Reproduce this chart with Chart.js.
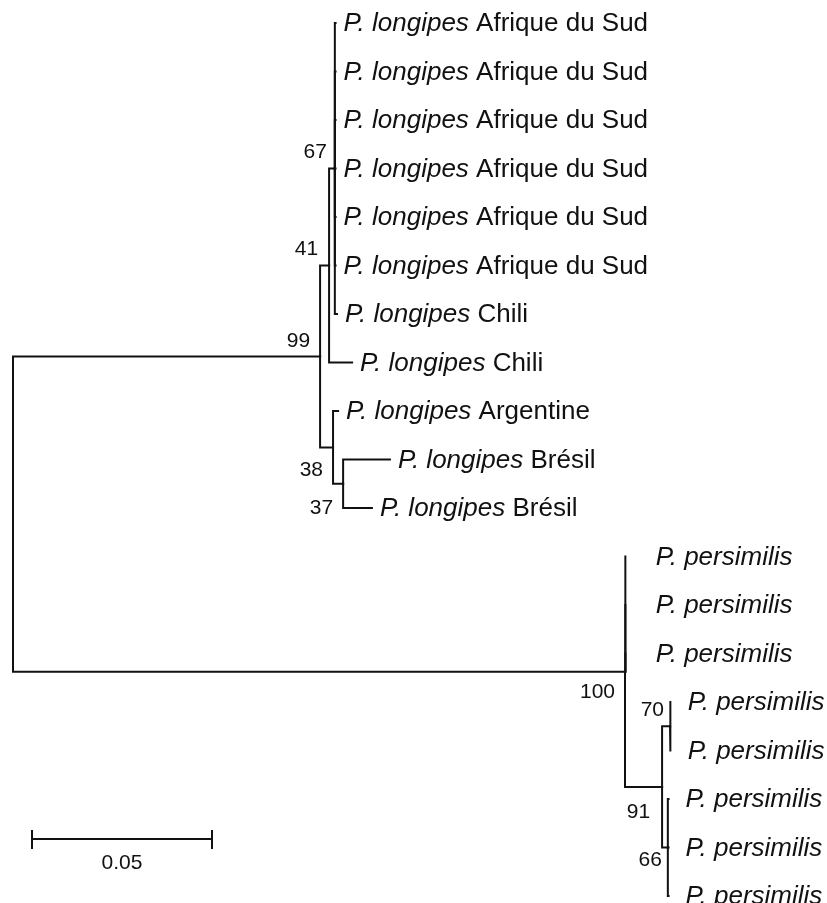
<!DOCTYPE html>
<html>
<head>
<meta charset="utf-8">
<script src="https://cdn.jsdelivr.net/npm/chart.js@4/dist/chart.umd.min.js"></script>
<style>
  body { margin: 0; background: #fff; }
  #wrap { width: 827px; height: 903px; }
</style>
</head>
<body>
<div id="wrap"><canvas id="tree" width="827" height="903"></canvas></div>
<script>
// ---------------- data ----------------
// leaves 0..18 (top to bottom), internal nodes 19..28
const leafGenus = [
  "P. longipes", "P. longipes", "P. longipes", "P. longipes", "P. longipes", "P. longipes",
  "P. longipes", "P. longipes", "P. longipes", "P. longipes", "P. longipes",
  "P. persimilis", "P. persimilis", "P. persimilis", "P. persimilis",
  "P. persimilis", "P. persimilis", "P. persimilis", "P. persimilis"
];
const leafOrigin = [
  "Afrique du Sud", "Afrique du Sud", "Afrique du Sud", "Afrique du Sud", "Afrique du Sud", "Afrique du Sud",
  "Chili", "Chili", "Argentine", "Brésil", "Brésil",
  "", "", "", "", "", "", "", ""
];
// parent of every node (-1 = root)
const parentOf = [
  22, 22, 22, 22, 22, 22, 22, 21, 23, 24, 24,
  25, 25, 25, 27, 27, 28, 28, 28,
  -1, 19, 20, 21, 20, 23, 19, 25, 26, 26
];
// branch lengths (substitutions / site)
const branchLength = [
  0.0002, 0.0002, 0.0002, 0.0002, 0.0002, 0.0002, 0.0006, 0.0064, 0.0014, 0.0130, 0.0080,
  0.0002, 0.0002, 0.0002, 0.0002, 0.0002, 0.0002, 0.0002, 0.0002,
  0, 0.0853, 0.0025, 0.0016, 0.0036, 0.0028, 0.1700, 0.0103, 0.0022, 0.0016
];
// bootstrap values on internal nodes
const supportNode = [20, 21, 22, 23, 24, 25, 26, 27, 28];
const supportValue = [99, 41, 67, 38, 37, 100, 91, 70, 66];
const scaleBarLength = 0.05;

// ---------------- style ----------------
const LINE = "#111";
const labelGap = [8, 8, 8, 8, 8, 8, 8, 8, 8, 8, 8, 30, 30, 30, 17, 17, 17, 17, 17];
// support label offset: right edge dx, center dy (px, from node)
const supportOffset = [[-10, -15], [-11, -16], [-8, -16], [-10, 23], [-10, 24],
                       [-10, 21], [-12, 25], [-6, -16], [-6, 13]];

// ---------------- layout ----------------
const nLeaves = leafGenus.length;
const nodeX = [], nodeY = [];
function getX(i) {
  if (nodeX[i] !== undefined) return nodeX[i];
  nodeX[i] = parentOf[i] < 0 ? 0 : getX(parentOf[i]) + branchLength[i];
  return nodeX[i];
}
function getY(i) {
  if (nodeY[i] !== undefined) return nodeY[i];
  if (i < nLeaves) { nodeY[i] = i; return i; }
  const ys = [];
  parentOf.forEach((p, c) => { if (p === i) ys.push(getY(c)); });
  nodeY[i] = (Math.min(...ys) + Math.max(...ys)) / 2;
  return nodeY[i];
}
for (let i = 0; i < parentOf.length; i++) { getX(i); getY(i); }

var datasets = [];
parentOf.forEach((p, i) => {
  if (p < 0) return;
  datasets.push({
    data: [{x: nodeX[p], y: nodeY[p]}, {x: nodeX[p], y: nodeY[i]}, {x: nodeX[i], y: nodeY[i]}],
    showLine: true,
    borderColor: LINE,
    borderWidth: 2,
    borderCapStyle: "square",
    borderJoinStyle: "miter",
    pointRadius: 0,
    tension: 0,
  });
});

const treeText = {
  id: "treeText",
  afterDatasetsDraw(chart) {
    const ctx = chart.ctx;
    const xs = chart.scales.x, ys = chart.scales.y;
    ctx.save();
    ctx.fillStyle = "#111";
    ctx.textBaseline = "middle";
    // leaf names
    for (let i = 0; i < nLeaves; i++) {
      let px = xs.getPixelForValue(nodeX[i]) + labelGap[i];
      const py = ys.getPixelForValue(nodeY[i]) + 1;
      ctx.textAlign = "left";
      ctx.font = "italic 26px 'Liberation Sans', Arial, sans-serif";
      ctx.fillText(leafGenus[i], px, py);
      if (leafOrigin[i]) {
        px += ctx.measureText(leafGenus[i] + " ").width;
        ctx.font = "26px 'Liberation Sans', Arial, sans-serif";
        ctx.fillText(leafOrigin[i], px, py);
      }
    }
    // bootstrap values
    ctx.font = "21px 'Liberation Sans', Arial, sans-serif";
    ctx.textAlign = "right";
    supportNode.forEach((n, k) => {
      const px = xs.getPixelForValue(nodeX[n]) + supportOffset[k][0];
      const py = ys.getPixelForValue(nodeY[n]) + supportOffset[k][1];
      ctx.fillText(String(supportValue[k]), px, py);
    });
    // scale bar
    const x0 = 32, yb = 839;
    const x1 = x0 + (xs.getPixelForValue(scaleBarLength) - xs.getPixelForValue(0));
    ctx.strokeStyle = LINE;
    ctx.lineWidth = 2;
    ctx.beginPath();
    ctx.moveTo(x0, yb); ctx.lineTo(x1, yb);
    ctx.moveTo(x0, yb - 9); ctx.lineTo(x0, yb + 10);
    ctx.moveTo(x1, yb - 9); ctx.lineTo(x1, yb + 10);
    ctx.stroke();
    ctx.textAlign = "center";
    ctx.fillText(String(scaleBarLength), (x0 + x1) / 2, yb + 24);
    ctx.restore();
  }
};

// 3600 px per unit, root at x=13; leaf i at y = 23 + 48.5*i
new Chart(document.getElementById("tree"), {
  type: "scatter",
  data: { datasets: datasets },
  options: {
    responsive: false,
    animation: false,
    layout: { padding: 0 },
    plugins: { legend: { display: false }, tooltip: { enabled: false } },
    scales: {
      x: { type: "linear", display: false, min: -13 / 3600, max: (827 - 13) / 3600 },
      y: { type: "linear", display: false, reverse: true, min: -23 / 48.5, max: (903 - 23) / 48.5 },
    },
  },
  plugins: [treeText],
});
</script>
</body>
</html>
